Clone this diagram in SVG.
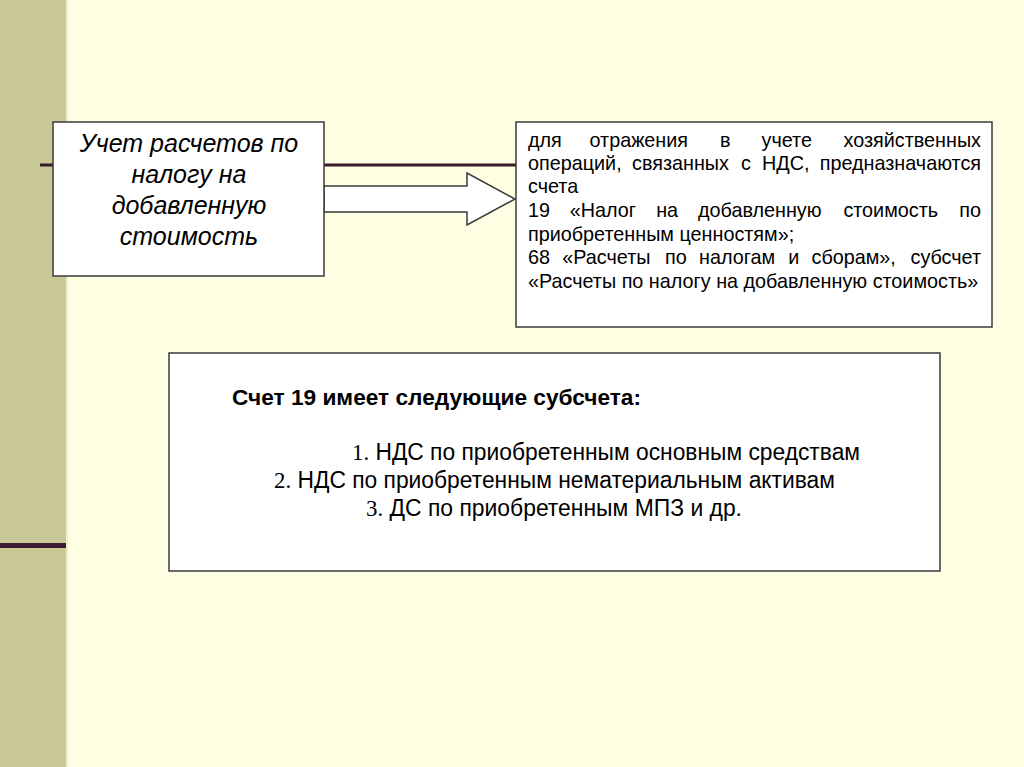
<svg xmlns="http://www.w3.org/2000/svg" width="1024" height="767" viewBox="0 0 1024 767">
<style>
.box{fill:#fff;stroke:#3a3a3a;stroke-width:1.5}
.t1{font-family:"Liberation Sans",Arial,sans-serif;font-style:italic;font-size:25px;fill:#000;text-anchor:middle}
.t2{font-family:"Liberation Sans",Arial,sans-serif;font-size:19.8px;fill:#000}
.t3{font-family:"Liberation Sans",Arial,sans-serif;font-weight:bold;font-size:22px;fill:#000}
.t4{font-family:"Liberation Sans",Arial,sans-serif;font-size:23px;fill:#000}
.num{font-family:"Liberation Serif","Times New Roman",serif}
.e{text-anchor:end}
</style>
<rect x="0" y="0" width="1024" height="767" fill="#fefee2"/>
<rect x="0" y="0" width="66" height="767" fill="#c9c998"/>
<rect x="66" y="0" width="2" height="767" fill="#eeeec8"/>
<rect x="0" y="543" width="66" height="5" fill="#3b1a33"/>
<g id="connectors">
<line x1="40" y1="165" x2="516" y2="165" stroke="#3b1a2a" stroke-width="3"/>
<polygon points="324,186 467,186 467,173 515,199 467,225 467,212 324,212" fill="#fff" stroke="#3a3a3a" stroke-width="1.5"/>
</g>
<g id="node1">
<rect class="box" x="53" y="122" width="271" height="154"/>
<text class="t1" x="189" y="152">Учет расчетов по</text>
<text class="t1" x="189" y="183">налогу на</text>
<text class="t1" x="189" y="214">добавленную</text>
<text class="t1" x="189" y="245">стоимость</text>
</g>
<g id="node2">
<rect class="box" x="516" y="122" width="476" height="205"/>
<text class="t2" y="147"><tspan x="528">для</tspan><tspan x="589.5">отражения</tspan><tspan x="720">в</tspan><tspan x="761.5">учете</tspan></text>
<text class="t2 e" x="981" y="147">хозяйственных</text>
<text class="t2" y="170"><tspan x="528">операций,</tspan><tspan x="632">связанных</tspan><tspan x="741">с</tspan><tspan x="762">НДС,</tspan></text>
<text class="t2 e" x="981" y="170">предназначаются</text>
<text class="t2" x="528" y="193">счета</text>
<text class="t2" y="217"><tspan x="528">19</tspan><tspan x="569.8">«Налог</tspan><tspan x="656.2">на</tspan><tspan x="698">добавленную</tspan><tspan x="843.4">стоимость</tspan></text>
<text class="t2 e" x="981" y="217">по</text>
<text class="t2" x="528" y="241">приобретенным ценностям»;</text>
<text class="t2" y="264"><tspan x="528">68</tspan><tspan x="562.3">«Расчеты</tspan><tspan x="665">по</tspan><tspan x="699.1">налогам</tspan><tspan x="788.2">и</tspan><tspan x="811.5">сборам»,</tspan></text>
<text class="t2 e" x="981" y="264">субсчет</text>
<text class="t2" x="528" y="288">«Расчеты по налогу на добавленную стоимость»</text>
</g>
<g id="node3">
<rect class="box" x="169" y="353" width="771" height="218"/>
<text class="t3" x="232" y="405" textLength="409" lengthAdjust="spacingAndGlyphs">Счет 19 имеет следующие субсчета:</text>
<text class="t4" x="352" y="460" textLength="508" lengthAdjust="spacingAndGlyphs"><tspan class="num">1.</tspan> НДС по приобретенным основным средствам</text>
<text class="t4" x="274" y="488" textLength="561" lengthAdjust="spacingAndGlyphs"><tspan class="num">2.</tspan> НДС по приобретенным нематериальным активам</text>
<text class="t4" x="366" y="516" textLength="376" lengthAdjust="spacingAndGlyphs"><tspan class="num">3.</tspan> ДС по приобретенным МПЗ и др.</text>
</g>
</svg>
